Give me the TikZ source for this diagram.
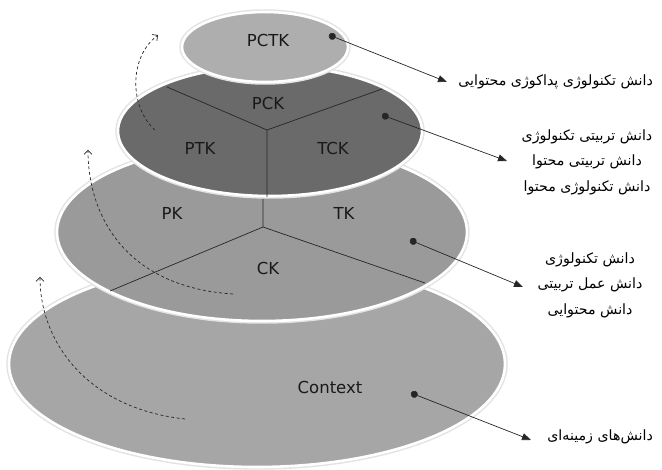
\documentclass[tikz,border=0pt]{standalone}
\usepackage{fontspec}
\usetikzlibrary{arrows.meta}
\TeXXeTstate=1
\newfontfamily\lab{DejaVu Sans}
\newfontfamily\fa[Script=Arabic]{DejaVu Sans}
\definecolor{topc}{HTML}{AEAEAE}
\definecolor{darkc}{HTML}{6A6A6A}
\definecolor{midc}{HTML}{9A9A9A}
\definecolor{botc}{HTML}{A6A6A6}
\tikzset{
  layer/.style={fill=#1, draw=white, line width=2.6pt},
  halo/.style={draw=black!11, line width=5.5pt},
  divide/.style={draw=black!85, line width=0.7pt},
  lbl/.style={font=\lab\fontsize{16.5}{19}\selectfont, text=black!90},
  fatext/.style={font=\fa\fontsize{14.2}{25.5}\selectfont, align=center, inner sep=0pt},
  pointer/.style={draw=black!85, line width=0.7pt, {Circle[length=7pt]}-{Triangle[length=9pt,width=7pt]}},
  cycle arrow/.style={draw=black!85, line width=0.7pt, dashed, dash pattern=on 3pt off 2.5pt, -{Straight Barb[length=4pt,width=8pt]}}
}
\begin{document}
\begin{tikzpicture}[x=1pt,y=-1pt]
\useasboundingbox (0,0) rectangle (662,470);
% bottom layer
\draw[halo] (257,364) ellipse [x radius=248, y radius=103];
\draw[layer=botc] (257,364) ellipse [x radius=248, y radius=103];
% middle layer
\draw[halo] (262,232) ellipse [x radius=205, y radius=89];
\draw[layer=midc] (262,232) ellipse [x radius=205, y radius=89];
\coordinate (mc) at (263,227);
\coordinate (mt) at (263,199);
\coordinate (ml) at (110,291);
\coordinate (mr) at (425,283);
\draw[divide] (mt) -- (mc) (ml) -- (mc) -- (mr);
% dark layer
\draw[halo] (270,131) ellipse [x radius=152, y radius=65];
\draw[layer=darkc] (270,131) ellipse [x radius=152, y radius=65];
\coordinate (dc) at (267,130);
\coordinate (db) at (267,197);
\coordinate (dl) at (167,87);
\coordinate (dr) at (382,89);
\draw[divide] (dl) -- (dc) -- (dr) (dc) -- (db);
% top layer
\draw[halo] (265,47) ellipse [x radius=83, y radius=35];
\draw[layer=topc] (265,47) ellipse [x radius=83, y radius=35];
% labels
\node[lbl] (pctk) at (268,40) {PCTK};
\node[lbl] (pck) at (268,103) {PCK};
\node[lbl] (ptk) at (200,148) {PTK};
\node[lbl] (tck) at (333,148) {TCK};
\node[lbl] (pk) at (172,213) {PK};
\node[lbl] (tk) at (344,213) {TK};
\node[lbl] (ck) at (268,268) {CK};
\node[lbl] (ctx) at (330,387) {Context};
% pointers
\coordinate (p1) at (329,35);  \coordinate (t1) at (447,82);
\coordinate (p2) at (382,115); \coordinate (t2) at (507,161);
\coordinate (p3) at (410,240); \coordinate (t3) at (523,287);
\coordinate (p4) at (411,393); \coordinate (t4) at (531,440);
\draw[pointer] (p1) -- (t1);
\draw[pointer] (p2) -- (t2);
\draw[pointer] (p3) -- (t3);
\draw[pointer] (p4) -- (t4);
% persian texts
\node[fatext, anchor=east] (f1) at (653,82) {\beginR دانش تکنولوژی پداکوژی محتوایی\endR};
\node[fatext] (f2) at (587,162) {\beginR دانش تربیتی تکنولوژی\endR\\ \beginR دانش تربیتی محتوا\endR\\ \beginR دانش تکنولوژی محتوا\endR};
\node[fatext] (f3) at (590,285) {\beginR دانش تکنولوژی\endR\\ \beginR دانش عمل تربیتی\endR\\ \beginR دانش محتوایی\endR};
\node[fatext, anchor=east] (f4) at (653,437) {\beginR دانش‌های زمینه‌ای\endR};
% cycle arrows
\coordinate (a1s) at (155,130); \coordinate (a1e) at (158,35);
\coordinate (a2s) at (233,294); \coordinate (a2e) at (88,150);
\coordinate (a3s) at (185,419); \coordinate (a3e) at (40,277);
\draw[cycle arrow] (a1s) .. controls (130,108) and (128,58) .. (a1e);
\draw[cycle arrow] (a2s) .. controls (125,287) and (88,215) .. (a2e);
\draw[cycle arrow] (a3s) .. controls (85,408) and (40,340) .. (a3e);
\end{tikzpicture}
\end{document}
